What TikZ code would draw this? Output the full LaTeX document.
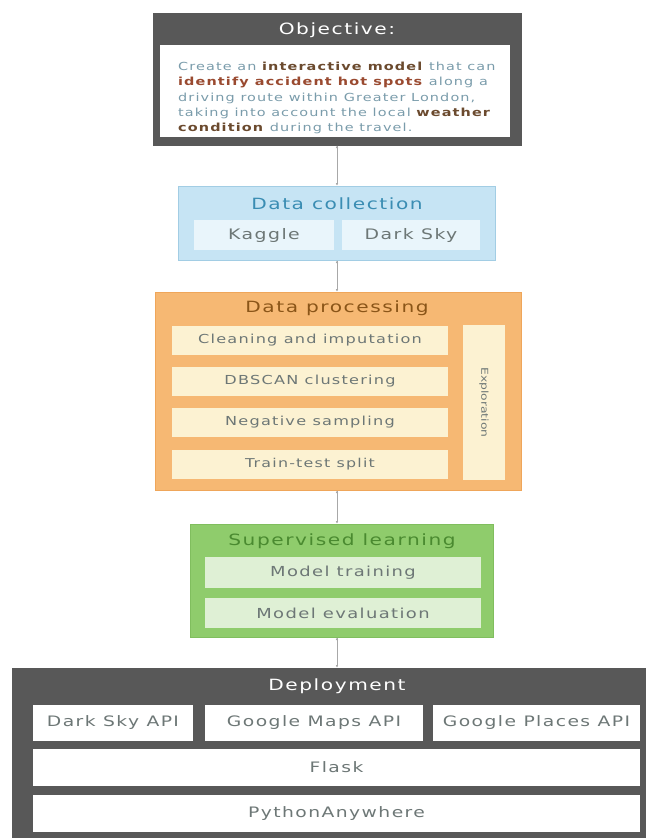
\documentclass[tikz,border=0pt]{standalone}
\usepackage{fontspec}
\setmainfont{DejaVu Sans}[LetterSpace=10, FakeStretch=1.3]
\usepackage{xcolor}
\usepackage{tikz}
\usetikzlibrary{arrows.meta}

\definecolor{darkbg}{HTML}{585858}
\definecolor{linegray}{HTML}{A8A8A8}
\definecolor{bluebg}{HTML}{C6E4F4}
\definecolor{blueedge}{HTML}{A2CDE4}
\definecolor{bluetitle}{HTML}{3A8DB3}
\definecolor{bluepart}{HTML}{E9F5FB}
\definecolor{orangebg}{HTML}{F6B873}
\definecolor{orangeedge}{HTML}{EFA65A}
\definecolor{orangetitle}{HTML}{8A5518}
\definecolor{orangepart}{HTML}{FCF2D2}
\definecolor{greenbg}{HTML}{8FCC6C}
\definecolor{greenedge}{HTML}{80BE5E}
\definecolor{greentitle}{HTML}{4A8A30}
\definecolor{greenpart}{HTML}{DFF0D5}
\definecolor{parttext}{HTML}{6D7776}
\definecolor{objtext}{HTML}{7A9CAB}
\definecolor{keyone}{HTML}{6B4A2E}
\definecolor{keytwo}{HTML}{9A4A30}

\tikzset{
  stage/.style={draw, line width=1pt, inner sep=0pt},
  part/.style={inner sep=0pt, text=parttext, font=\fontsize{#1}{#1}\selectfont},
  part/.default=14.4,
  stagetitle/.style={inner sep=0pt, font=\fontsize{15.5}{17}\selectfont},
  flow/.style={draw=linegray, line width=1pt, -{Latex[length=2.5pt,width=2.5pt]}},
}

\begin{document}
\begin{tikzpicture}[x=1pt,y=-1pt]
  \useasboundingbox (0,0) rectangle (648,839);
  % objective
  \node[stage, draw=darkbg, fill=darkbg, minimum width=368pt, minimum height=132pt] (obj) at (337,79) {};
  \node[fill=white, inner sep=0pt, minimum width=350pt, minimum height=92pt] (objbody) at (335,91) {};
  \node[stagetitle, text=white] (objtitle) at (337,30) {Objective:};
  \node[inner sep=0pt, align=left, text=objtext, font=\fontsize{11.1}{15.3}\selectfont, anchor=west] (objtext) at (178,98)
    {Create an \textcolor{keyone}{\textbf{interactive model}} that can\\
     \textcolor{keytwo}{\textbf{identify accident hot spots}} along a\\
     driving route within Greater London,\\
     taking into account the local \textcolor{keyone}{\textbf{weather}}\\
     \textcolor{keyone}{\textbf{condition}} during the travel.};
  % data collection
  \node[stage, draw=blueedge, fill=bluebg, minimum width=317pt, minimum height=74pt] (collect) at (336.5,223) {};
  \node[stagetitle, text=bluetitle] (collecttitle) at (337,204) {Data collection};
  \node[part=14.5, fill=bluepart, minimum width=140pt, minimum height=30pt] (kaggle) at (264,235) {Kaggle};
  \node[part=14.5, fill=bluepart, minimum width=138pt, minimum height=30pt] (darksky) at (411,235) {Dark Sky};
  % data processing
  \node[stage, draw=orangeedge, fill=orangebg, minimum width=366pt, minimum height=198pt] (process) at (338,391) {};
  \node[stagetitle, text=orangetitle] (processtitle) at (337,308) {Data processing};
  \node[part=12.4, fill=orangepart, minimum width=276pt, minimum height=29pt] (clean) at (310,340.5) {Cleaning and imputation};
  \node[part=12.4, fill=orangepart, minimum width=276pt, minimum height=29pt] (dbscan) at (310,381.5) {DBSCAN clustering};
  \node[part=12.4, fill=orangepart, minimum width=276pt, minimum height=29pt] (negative) at (310,422.5) {Negative sampling};
  \node[part=12.2, fill=orangepart, minimum width=276pt, minimum height=29pt] (split) at (310,464) {Train-test split};
  \node[part=9.5, font=\fontsize{9.5}{9.5}\selectfont\addfontfeatures{LetterSpace=0}, fill=orangepart, minimum width=155pt, minimum height=42pt, rotate=-90] (explore) at (484,402.5) {Exploration};
  % supervised learning
  \node[stage, draw=greenedge, fill=greenbg, minimum width=303pt, minimum height=113pt] (learn) at (341.5,580.5) {};
  \node[stagetitle, text=greentitle] (learntitle) at (342,541) {Supervised learning};
  \node[part=13.8, fill=greenpart, minimum width=276pt, minimum height=31pt] (train) at (343,572.5) {Model training};
  \node[part=13.8, fill=greenpart, minimum width=276pt, minimum height=30pt] (evaluate) at (343,613) {Model evaluation};
  % deployment
  \node[stage, draw=darkbg, fill=darkbg, minimum width=633pt, minimum height=169pt] (deploy) at (328.5,752.5) {};
  \node[stagetitle, text=white] (deploytitle) at (337,686) {Deployment};
  \node[part, fill=white, minimum width=160pt, minimum height=36pt] (skyapi) at (113,723) {Dark Sky API};
  \node[part, fill=white, minimum width=218pt, minimum height=36pt] (mapsapi) at (314,723) {Google Maps API};
  \node[part, fill=white, minimum width=207pt, minimum height=36pt] (placesapi) at (536.5,723) {Google Places API};
  \node[part, fill=white, minimum width=607pt, minimum height=37pt] (flask) at (336.5,767.5) {Flask};
  \node[part, fill=white, minimum width=607pt, minimum height=37pt] (host) at (336.5,813.5) {PythonAnywhere};
  % flow between stages
  \path[flow] (obj.south -| objtitle) edge (collect.north -| objtitle);
  \path[flow] (collect.south -| objtitle) edge (process.north -| objtitle);
  \path[flow] (process.south -| objtitle) edge (learn.north -| objtitle);
  \path[flow] (learn.south -| objtitle) edge (deploy.north -| objtitle);
\end{tikzpicture}
\end{document}
